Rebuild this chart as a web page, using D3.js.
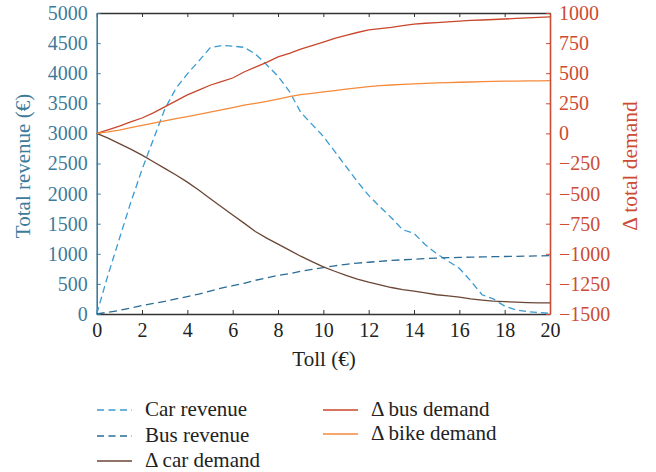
<!DOCTYPE html>
<html><head><meta charset="utf-8">
<script src="https://cdn.jsdelivr.net/npm/d3@7"></script>
<style>body{margin:0;background:#fff;}</style>
</head><body><svg id="c" width="656" height="472"></svg>
<script>
const tolls = d3.range(0, 20.01, 0.5);
const carRevenue = [0,650,1250,1850,2400,2900,3400,3750,3990,4200,4420,4460,4450,4430,4320,4140,3950,3700,3350,3150,2950,2700,2450,2200,1970,1780,1600,1400,1340,1150,1000,880,760,550,320,250,130,70,40,25,10];
const busRevenue = [0,30,60,100,140,175,210,250,290,330,380,430,470,510,560,600,640,670,710,740,770,800,825,845,860,875,890,900,910,920,928,935,940,944,948,952,955,958,962,966,970];
const carDemand = [0,-40,-85,-130,-180,-235,-290,-345,-405,-470,-540,-610,-678,-745,-815,-870,-920,-970,-1020,-1065,-1109,-1145,-1180,-1210,-1236,-1258,-1280,-1297,-1310,-1325,-1340,-1350,-1360,-1375,-1385,-1393,-1398,-1402,-1405,-1407,-1408];
const busDemand = [0,30,60,95,128,170,220,270,320,360,400,430,460,510,550,590,635,665,700,730,759,790,815,838,859,870,880,895,908,915,920,926,933,938,942,946,950,955,960,964,967];
const bikeDemand = [0,12,28,48,66,85,104,122,140,158,176,196,215,234,250,266,285,305,322,333,345,356,367,378,388,396,402,407,411,415,419,422,425,427,430,432,434,435,436,437,438];
const xTicks = d3.range(0, 21, 2);
const leftTicks = d3.range(0, 5001, 500);
const rightTicks = d3.range(-1500, 1001, 250);

const cLeft = "#3d7b9b", cRight = "#cd4b33", cDark = "#333";
const cCarRev = "#3b9ad2", cBusRev = "#2a6c95", cCarDem = "#6b4634", cBusDem = "#c9462b", cBikeDem = "#f68a3b";
const FONT = "Liberation Serif";

const svg = d3.select("#c");
const L = 96.7, R = 550, T = 13, B = 314;
const x = d3.scaleLinear().domain([0, 20]).range([L, R]);
const yL = d3.scaleLinear().domain([0, 5000]).range([B, T]);
const yR = d3.scaleLinear().domain([-1500, 1000]).range([B, T]);
const fmt = d3.format("d");

const fs = 20;
function styleAxis(g, col, lineCol, sw) {
  g.attr("font-family", FONT);
  g.select(".domain").attr("stroke", lineCol).attr("stroke-width", sw);
  g.selectAll(".tick line").attr("stroke", lineCol);
  g.selectAll("text").attr("font-family", FONT).attr("font-size", fs).attr("fill", col);
}
styleAxis(svg.append("g").attr("transform", `translate(0,${B})`)
  .call(d3.axisBottom(x).tickValues(xTicks).tickFormat(fmt).tickSizeInner(-4).tickSizeOuter(0).tickPadding(9)), "#222", cDark, 1.4);
styleAxis(svg.append("g").attr("transform", `translate(0,${T})`)
  .call(d3.axisTop(x).tickValues(xTicks).tickSizeInner(-4).tickSizeOuter(0).tickFormat("")), "#222", cDark, 1.4);
styleAxis(svg.append("g").attr("transform", `translate(${L},0)`)
  .call(d3.axisLeft(yL).tickValues(leftTicks).tickFormat(fmt).tickSizeInner(-4).tickSizeOuter(0).tickPadding(9)), cLeft, cLeft, 1.6);
styleAxis(svg.append("g").attr("transform", `translate(${R},0)`)
  .call(d3.axisRight(yR).tickValues(rightTicks).tickFormat(fmt).tickSizeInner(-4).tickSizeOuter(0).tickPadding(9)), cRight, cRight, 1.6);

// axis titles
svg.append("text").attr("x", 324).attr("y", 366).attr("text-anchor", "middle").attr("font-family", FONT)
  .attr("font-size", 21).attr("fill", "#222").text("Toll (€)");
svg.append("text").attr("transform", "translate(30,166) rotate(-90)").attr("text-anchor", "middle").attr("font-family", FONT)
  .attr("font-size", 21).attr("fill", cLeft).text("Total revenue (€)");
svg.append("text").attr("transform", "translate(637,166) rotate(-90)").attr("text-anchor", "middle").attr("font-family", FONT)
  .attr("font-size", 21.5).attr("fill", cRight).text("Δ total demand");

const series = [
  {name: "Car revenue", vals: carRevenue, y: yL, color: cCarRev, dash: "7,4"},
  {name: "Bus revenue", vals: busRevenue, y: yL, color: cBusRev, dash: "8,4.5"},
  {name: "Δ car demand", vals: carDemand, y: yR, color: cCarDem, dash: null},
  {name: "Δ bus demand", vals: busDemand, y: yR, color: cBusDem, dash: null},
  {name: "Δ bike demand", vals: bikeDemand, y: yR, color: cBikeDem, dash: null}
];
const plot = svg.append("g");
series.forEach(s => {
  const line = d3.line().x((d, i) => x(tolls[i])).y(d => s.y(d));
  plot.append("path").datum(s.vals).attr("d", line).attr("fill", "none")
    .attr("stroke", s.color).attr("stroke-width", 1.3)
    .attr("stroke-dasharray", s.dash);
});

// legend
const legPos = [[97, 410], [97, 436], [97, 461], [323, 410], [323, 434]];
series.forEach((s, i) => {
  const [lx, ly] = legPos[i];
  svg.append("line").attr("x1", lx).attr("x2", lx + 35).attr("y1", ly).attr("y2", ly)
    .attr("stroke", s.color).attr("stroke-width", 1.3).attr("stroke-dasharray", s.dash ? "7,4.5" : null);
  svg.append("text").attr("x", lx + 48).attr("y", ly + 6).attr("font-family", FONT).attr("font-size", 21)
    .attr("fill", "#222").text(s.name);
});
</script></body></html>
